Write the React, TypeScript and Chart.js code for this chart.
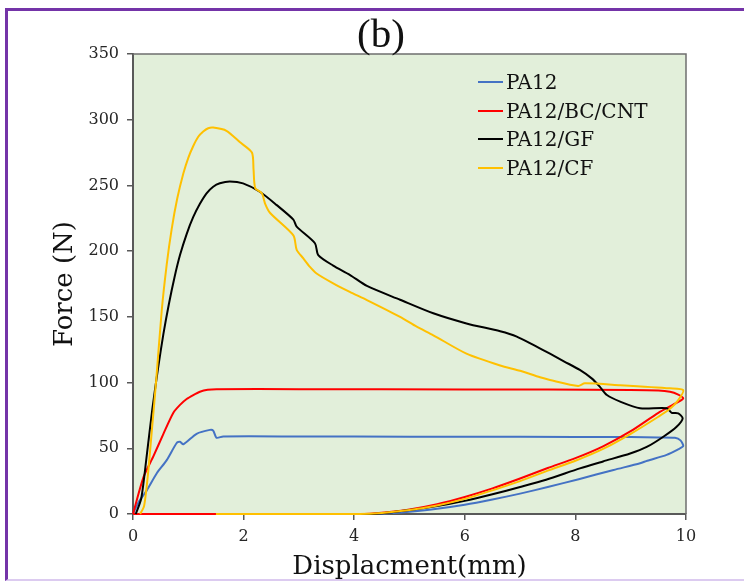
import React, { useEffect, useRef } from 'react';
import { Chart, registerables } from 'chart.js';

Chart.register(...registerables);

// ---- data (displacement mm, force N) ----
const pa12X = [0, 0.1, 0.25, 0.43, 0.61, 0.79, 0.85, 0.91, 1.15, 1.39, 1.45, 1.51, 1.63, 3, 5, 7, 9, 9.5, 9.8, 9.9, 9.95, 9.85, 9.65, 9.3, 9.17, 8.69, 8.06, 7.5, 7.0, 6.5, 6.0, 5.5, 5.0, 4.6, 4.3, 2, 0];
const pa12Y = [0, 9, 18, 31, 41, 54, 55, 53, 61, 64, 63.5, 58, 59, 59, 58.8, 58.7, 58.5, 58.3, 58, 56, 51.7, 49, 45, 40.5, 38.6, 33.5, 26.5, 20.5, 15.5, 11, 7, 4, 1.8, 0.5, 0, 0, 0];

const bcX = [0, 0.19, 0.37, 0.55, 0.73, 0.85, 0.97, 1.09, 1.21, 1.35, 1.51, 3, 6, 9, 9.5, 9.71, 9.85, 9.95, 9.8, 9.5, 9.0, 8.5, 8.0, 7.5, 7.0, 6.5, 6.0, 5.5, 5.0, 4.5, 4.1, 2, 0];
const bcY = [0, 28, 44, 61, 77, 83, 87.5, 90.5, 93, 94.5, 95, 95, 94.8, 94.4, 94, 93, 91, 88, 84, 77, 63, 51.5, 42.5, 35, 27, 19.5, 13, 7.5, 3.5, 1, 0, 0, 0];

const gfX = [0.05, 0.15, 0.25, 0.35, 0.45, 0.55, 0.65, 0.75, 0.85, 0.97, 1.09, 1.21, 1.33, 1.45, 1.57, 1.75, 1.99, 2.3, 2.6, 2.9, 2.96, 3.29, 3.35, 3.62, 3.92, 4.23, 4.83, 5.43, 6.03, 6.64, 6.94, 7.24, 7.54, 7.8, 8.08, 8.3, 8.44, 8.57, 8.81, 9.17, 9.65, 9.74, 9.86, 9.94, 9.83, 9.59, 9.29, 8.99, 8.5, 8.08, 7.47, 7.0, 6.5, 6.0, 5.5, 5.0, 4.6, 4.28, 2];
const gfY = [0, 12, 45, 80, 110, 137, 160, 180, 197, 213, 226, 236, 244, 249, 251.6, 253, 251.6, 245, 235, 224, 218.6, 206, 197, 189, 182, 173.5, 163, 152.7, 145, 139, 135, 128.6, 122, 116, 109.6, 103, 96.9, 90.5, 85.5, 80.4, 80.4, 77, 76.6, 72.8, 66.4, 58.8, 51, 46, 40, 34.7, 26, 20.5, 15, 10, 6, 3, 1, 0, 0];

const cfX = [0.13, 0.2, 0.27, 0.35, 0.42, 0.52, 0.61, 0.7, 0.8, 0.91, 1.0, 1.09, 1.18, 1.27, 1.36, 1.45, 1.69, 1.93, 2.15, 2.18, 2.21, 2.33, 2.39, 2.48, 2.9, 2.96, 3.08, 3.2, 3.32, 3.62, 3.92, 4.23, 4.83, 5.13, 5.43, 6.03, 6.64, 7.0, 7.36, 7.54, 8.05, 8.17, 8.81, 9.71, 9.95, 9.86, 9.71, 9.5, 9.0, 8.5, 8.0, 7.5, 7.0, 6.5, 6.0, 5.5, 5.0, 4.5, 4.1, 1.5];
const cfY = [0, 6, 30, 68, 102, 155, 190, 217, 240, 259, 271, 280, 287, 291, 293.5, 294, 291.6, 283, 275, 262, 248, 244, 236, 229, 212, 201, 194.5, 188, 183, 175.5, 169, 162.8, 150, 142.5, 136, 122, 113, 109, 104, 102, 97.4, 99.4, 98, 95.6, 94.3, 86.7, 80, 74, 61, 49.5, 40.5, 33, 25, 18, 11.5, 6.5, 3, 0.8, 0, 0];

const seriesNames = ['PA12', 'PA12/BC/CNT', 'PA12/GF', 'PA12/CF'];
const seriesX = [pa12X, bcX, gfX, cfX];
const seriesY = [pa12Y, bcY, gfY, cfY];

const xMin = 0, xMax = 10, xStep = 2;
const yMin = 0, yMax = 350, yStep = 50;
const titleText = '(b)';
const xTitle = 'Displacment(mm)';
const yTitle = 'Force (N)';

// ---- styles ----
const colors = ['#4472c4', '#ff0000', '#000000', '#ffc000'];
const FONT = "'DejaVu Serif', serif";
const AXIS = '#595959';
const TXT = '#262626';

const plotDecor = {
  id: 'plotDecor',
  beforeDraw(chart: any) {
    const { ctx, chartArea } = chart;
    const { left, top, right, bottom } = chartArea;
    ctx.save();
    ctx.fillStyle = '#e2efda';
    ctx.fillRect(left, top, right - left, bottom - top);
    ctx.restore();
  },
  afterDraw(chart: any) {
    const { ctx, chartArea } = chart;
    const { left, top, right, bottom } = chartArea;
    ctx.save();
    ctx.strokeStyle = '#6f6f6f';
    ctx.lineWidth = 1.5;
    ctx.beginPath();
    ctx.moveTo(left, top);
    ctx.lineTo(right, top);
    ctx.lineTo(right, bottom);
    ctx.stroke();
    ctx.restore();
  },
};

export default function App() {
  const ref = useRef<HTMLCanvasElement>(null);

  useEffect(() => {
    if (!ref.current) return;
    const datasets = seriesNames.map((name, i) => ({
      label: name,
      data: seriesX[i].map((x, j) => ({ x, y: seriesY[i][j] })),
      borderColor: colors[i],
      backgroundColor: colors[i],
      borderWidth: 2,
      pointRadius: 0,
      showLine: true,
      tension: 0.25,
      fill: false,
      order: 4 - i,
      clip: { left: 2, top: 2, right: 1, bottom: 3 },
      borderJoinStyle: 'round' as const,
    }));
    const chart = new Chart(ref.current, {
      type: 'scatter',
      data: { datasets },
      options: {
        animation: false,
        responsive: false,
        layout: { padding: { left: 0, top: 54, right: 58, bottom: 0 } },
        plugins: {
          legend: { display: false },
          tooltip: { enabled: false },
        },
        scales: {
          x: {
            type: 'linear',
            min: xMin,
            max: xMax,
            ticks: { stepSize: xStep, color: TXT, font: { family: FONT, size: 16 }, padding: 7 },
            grid: { drawOnChartArea: false, drawTicks: true, tickLength: 6, color: AXIS, lineWidth: 1.5, z: -1 },
            border: { display: true, color: AXIS, width: 2, z: -1 },
            title: { display: true, text: xTitle, color: '#111', font: { family: FONT, size: 26 }, padding: { top: 0, bottom: 2 } },
            afterFit: (s: any) => { s.height = 71; },
          },
          y: {
            type: 'linear',
            min: yMin,
            max: yMax,
            ticks: { stepSize: yStep, color: TXT, font: { family: FONT, size: 16 }, padding: 8 },
            grid: { drawOnChartArea: false, drawTicks: true, tickLength: 6, color: AXIS, lineWidth: 1.5, z: -1 },
            border: { display: true, color: AXIS, width: 2, z: -1 },
            title: { display: true, text: yTitle, color: '#111', font: { family: FONT, size: 26 }, padding: { top: 50, bottom: 0 } },
            afterFit: (s: any) => { s.width = 133; },
          },
        },
      },
      plugins: [plotDecor],
    });
    return () => chart.destroy();
  }, []);

  const legendY = [82, 110.5, 139, 167.5];

  return (
    <div style={{ position: 'fixed', left: 0, top: 0, width: 744, height: 585, background: '#fff', overflow: 'hidden' }}>
      <div style={{ position: 'absolute', left: 5, top: 8, width: 800, height: 573, borderLeft: '3px solid #7434a8', borderTop: '3px solid #7434a8', borderBottom: '2px solid #dccbf0', boxSizing: 'border-box' }} />
      <canvas ref={ref} width={744} height={585} style={{ position: 'absolute', left: 0, top: 0 }} />
      <div style={{ position: 'absolute', left: 381, top: 13, transform: 'translateX(-50%)', fontFamily: "'Liberation Serif', serif", fontSize: 41, lineHeight: '41px', color: '#111', whiteSpace: 'nowrap' }}>{titleText}</div>
      {seriesNames.map((name, i) => (
        <React.Fragment key={name}>
          <div style={{ position: 'absolute', left: 478, top: legendY[i] - 1, width: 25, height: 2, background: colors[i] }} />
          <div style={{ position: 'absolute', left: 506, top: legendY[i] - 12, height: 24, lineHeight: '24px', fontFamily: FONT, fontSize: 20, color: '#111', whiteSpace: 'nowrap' }}>{name}</div>
        </React.Fragment>
      ))}
    </div>
  );
}
